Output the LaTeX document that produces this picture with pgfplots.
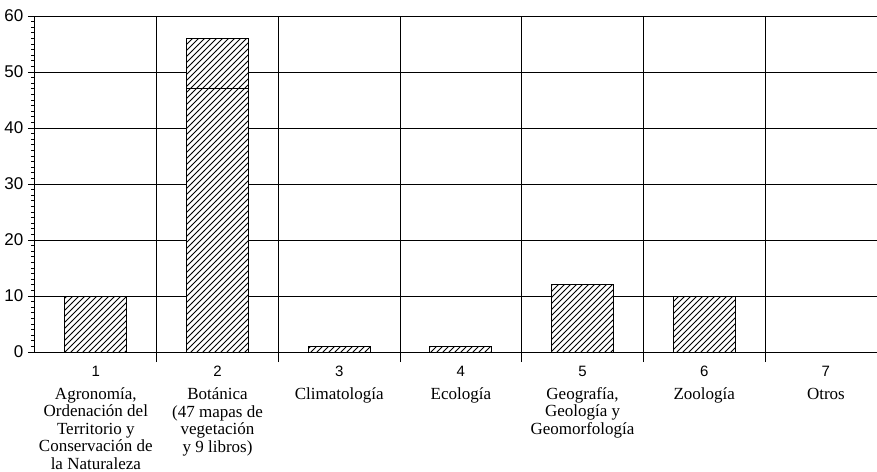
\documentclass[border=0pt]{standalone}
\usepackage{fontspec}
\setmainfont{Liberation Serif}
\setsansfont{Liberation Sans}
\usepackage{pgfplots}
\pgfplotsset{compat=1.18}
\usetikzlibrary{patterns}
\begin{document}
\begin{tikzpicture}
\useasboundingbox (-17.5pt,-59.5pt) rectangle (421pt,176pt);
\begin{axis}[
  scale only axis, width=421pt, height=168pt,
  at={(0,0)}, anchor=south west,
  xmin=0.5, xmax=7.42, ymin=0, ymax=60,
  axis x line*=bottom, axis y line*=left,
  axis line style={line width=0.5pt, black},
  ybar stacked, bar width=0.51,
  xtick={1,2,3,4,5,6,7},
  x tick style={draw=none},
  xticklabels={
    {{\fontsize{7.5}{8}\sffamily 1}\\[2.75pt]Agronomía,\\Ordenación del\\Territorio y\\Conservación de\\la Naturaleza},
    {{\fontsize{7.5}{8}\sffamily 2}\\[2.75pt]Botánica\\(47 mapas de\\vegetación\\y 9 libros)},
    {{\fontsize{7.5}{8}\sffamily 3}\\[2.75pt]Climatología},
    {{\fontsize{7.5}{8}\sffamily 4}\\[2.75pt]Ecología},
    {{\fontsize{7.5}{8}\sffamily 5}\\[2.75pt]Geografía,\\Geología y\\Geomorfología},
    {{\fontsize{7.5}{8}\sffamily 6}\\[2.75pt]Zoología},
    {{\fontsize{7.5}{8}\sffamily 7}\\[2.75pt]Otros}},
  xticklabel style={font=\fontsize{8.5}{8.75}\selectfont, align=center, anchor=north, yshift=0pt},
  extra x ticks={1.5,2.5,3.5,4.5,5.5,6.5},
  extra x tick labels={},
  extra x tick style={grid=major, major tick length=10pt, tick align=center,
     x tick style={draw=black, line width=0.5pt}},
  ytick={0,10,20,30,40,50,60},
  minor y tick num=9,
  ymajorgrids,
  grid style={black, line width=0.5pt},
  tick align=outside,
  major tick length=3.5pt, minor tick length=1.75pt,
  y tick style={black, line width=0.5pt},
  yticklabel style={font=\fontsize{8.5}{9}\sffamily, xshift=1.2pt},
  /pgf/number format/assume math mode=true,
]
\addplot[draw=black, line width=0.5pt, fill=white, postaction={pattern=north east lines}]
  coordinates {(1,10) (2,47) (3,1) (4,1) (5,12) (6,10) (7,0)};
\addplot[draw=black, line width=0.5pt, fill=white, postaction={pattern=north east lines}]
  coordinates {(1,0) (2,9) (3,0) (4,0) (5,0) (6,0) (7,0)};
\end{axis}
\end{tikzpicture}
\end{document}
